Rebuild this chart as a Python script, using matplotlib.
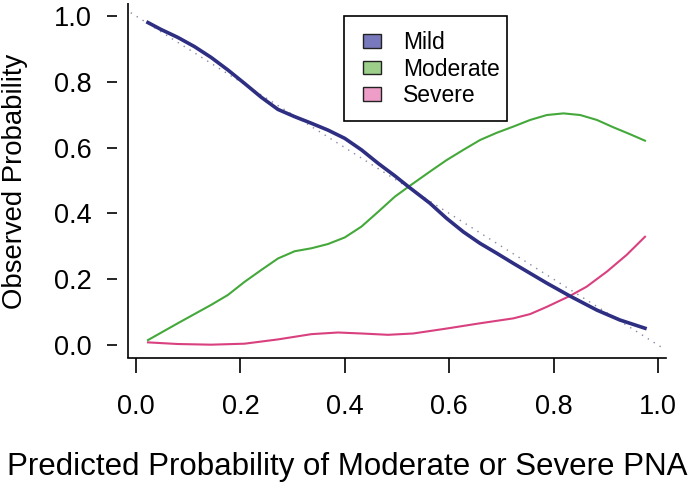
import matplotlib
matplotlib.use("Agg")
import matplotlib.pyplot as plt
from matplotlib.patches import Patch, Rectangle

plt.rcParams['font.family'] = ['Liberation Sans', 'DejaVu Sans']

# Mild
mild_x = [0.023, 0.048, 0.080, 0.112, 0.144, 0.176, 0.208, 0.240, 0.272, 0.304,
          0.336, 0.368, 0.400, 0.432, 0.464, 0.496, 0.522, 0.563, 0.595, 0.627,
          0.659, 0.691, 0.723, 0.755, 0.787, 0.831, 0.883, 0.927, 0.975]
mild_y = [0.980, 0.959, 0.935, 0.907, 0.874, 0.836, 0.795, 0.753, 0.716, 0.694,
          0.674, 0.653, 0.628, 0.593, 0.552, 0.514, 0.481, 0.431, 0.385, 0.344,
          0.309, 0.279, 0.248, 0.218, 0.188, 0.149, 0.106, 0.076, 0.051]
# Moderate
mod_x = [0.023, 0.080, 0.144, 0.176, 0.208, 0.240, 0.272, 0.304, 0.336, 0.368,
         0.400, 0.432, 0.464, 0.496, 0.522, 0.563, 0.595, 0.627, 0.659, 0.691,
         0.723, 0.755, 0.787, 0.819, 0.851, 0.883, 0.914, 0.946, 0.975]
mod_y = [0.015, 0.066, 0.122, 0.152, 0.192, 0.228, 0.263, 0.285, 0.294, 0.307,
         0.327, 0.360, 0.405, 0.451, 0.481, 0.527, 0.562, 0.593, 0.623, 0.645,
         0.664, 0.684, 0.699, 0.704, 0.699, 0.684, 0.662, 0.641, 0.621]
# Severe
sev_x = [0.023, 0.080, 0.144, 0.208, 0.272, 0.336, 0.387, 0.432, 0.483, 0.531,
         0.595, 0.659, 0.723, 0.755, 0.787, 0.831, 0.863, 0.902, 0.940, 0.975]
sev_y = [0.008, 0.003, 0.001, 0.004, 0.017, 0.033, 0.038, 0.035, 0.031, 0.035,
         0.050, 0.066, 0.081, 0.094, 0.116, 0.149, 0.177, 0.223, 0.274, 0.329]

labels = ["Mild", "Moderate", "Severe"]
line_colors = ["#2e2e82", "#44a83a", "#d9407f"]
fill_colors = ["#7878bd", "#9ccf8a", "#ee9cc8"]
ticks = [0.0, 0.2, 0.4, 0.6, 0.8, 1.0]
tick_labels = ["0.0", "0.2", "0.4", "0.6", "0.8", "1.0"]

W, H = 696, 491
fig = plt.figure(figsize=(W / 100, H / 100), dpi=100)
L, R, T, B = 128, 666, 3, 358
ax = fig.add_axes([L / W, 1 - B / H, (R - L) / W, (B - T) / H])
ax.set_xlim(-0.0153, 1.0153)
ax.set_ylim(-0.0395, 1.0395)

# reference diagonal
ax.plot([-0.01, 1.01], [1.01, -0.01], linestyle=(0, (1, 4)), color="#8888a0", lw=1.0)

ax.plot(sev_x, sev_y, color=line_colors[2], lw=1.5)
ax.plot(mod_x, mod_y, color=line_colors[1], lw=1.5)
ax.plot(mild_x, mild_y, color=line_colors[0], lw=2.6)

for s in ["top", "right"]:
    ax.spines[s].set_visible(False)
ax.spines["bottom"].set_linewidth(1.2)
ax.spines["left"].set_position(("outward", 8))
ax.spines["left"].set_visible(False)
ax.plot([0, 0], [0, 1], transform=ax.transAxes, color="black", lw=1.2,
        clip_on=False, solid_capstyle="butt")

ax.set_xticks(ticks)
ax.set_xticklabels(tick_labels)
ax.set_yticks(ticks)
ax.set_yticklabels(tick_labels)
ax.tick_params(axis="x", length=11, width=1.2, pad=15, labelsize=19.5)
ax.tick_params(axis="y", length=7.2, width=1.2, pad=11, labelsize=19.5)

fig.text(15 / W, 1 - 181 / H, "Observed Probability", rotation=90,
         fontsize=19.8, ha="center", va="center")
fig.text(347 / W, 1 - 467 / H, "Predicted Probability of Moderate or Severe PNA",
         fontsize=22.5, ha="center", va="center")

# legend
ax.add_patch(Rectangle((344 / W, 1 - 121 / H), (507 - 344) / W, (121 - 16) / H,
                       transform=fig.transFigure, facecolor="white",
                       edgecolor="black", linewidth=1.2, zorder=5, clip_on=False))
handles = [Patch(facecolor=fc, edgecolor="#222222", linewidth=1.0) for fc in fill_colors]
leg = ax.legend(handles, labels, loc="upper left",
                bbox_to_anchor=(363 / W, 1 - 31 / H), bbox_transform=fig.transFigure,
                fontsize=16.5, frameon=False,
                borderaxespad=0, borderpad=0, handlelength=0.78, handleheight=0.55,
                handletextpad=0.95, labelspacing=0.16)
leg.set_zorder(6)

fig.savefig("out.png", dpi=100)
